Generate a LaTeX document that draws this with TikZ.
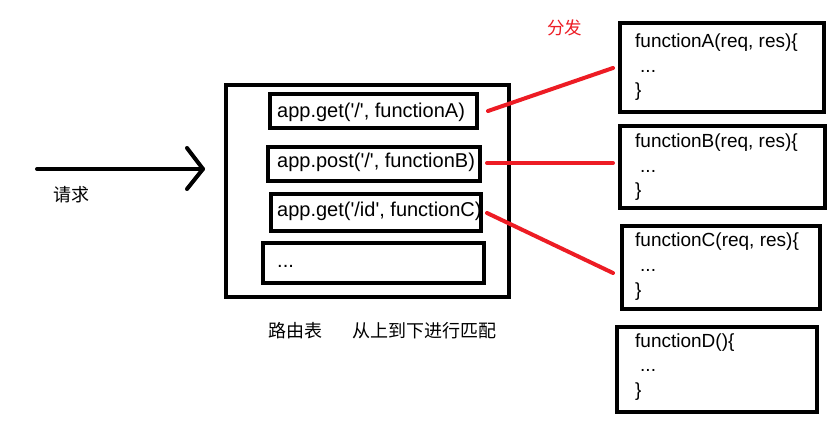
\documentclass[tikz,border=0pt]{standalone}
\usepackage{fontspec}
\setmainfont{Liberation Sans}
\newfontfamily\cjk{Noto Sans CJK SC}
\usetikzlibrary{calc}
\definecolor{paintred}{RGB}{237,28,36}
\newcommand{\sq}{\textquotesingle}
\begin{document}
\begin{tikzpicture}[x=1pt,y=-1pt,
  box/.style={draw=black,line width=4.5pt,rectangle,inner sep=0pt,outer sep=0pt},
  code/.style={anchor=base west,inner sep=0pt,font=\fontsize{19}{19}\selectfont},
  route/.style={code,font=\fontsize{20}{20}\selectfont},
  cn/.style={anchor=base west,inner sep=0pt,font=\cjk\fontsize{18}{18}\selectfont},
  redline/.style={draw=paintred,line width=4pt,line cap=round},
  reqline/.style={draw=black,line width=4pt,line cap=round,line join=round}]
\useasboundingbox[fill=white] (0,0) rectangle (839,433);
% routing table
\node[box,minimum width=283pt,minimum height=212pt] (table) at (367.5,191) {};
\node[box,minimum width=207pt,minimum height=34pt] (A) at (373.5,111) {};
\node[box,minimum width=212pt,minimum height=34pt] (B) at (374,164) {};
\node[box,minimum width=210pt,minimum height=37pt] (C) at (376,212.5) {};
\node[box,minimum width=221pt,minimum height=40pt] (D) at (373.5,263) {};
\node[route] (tA) at (277,118) {app.get(\sq/\sq, functionA)};
\node[route] (tB) at (277,168) {app.post(\sq/\sq, functionB)};
\node[route] (tC) at (277,217) {app.get(\sq/id\sq, functionC)};
\node[route] (tD) at (277,268) {...};
% functions
\node[box,minimum width=204pt,minimum height=89pt] (FA) at (722,67.5) {};
\node[box,minimum width=205pt,minimum height=82pt] (FB) at (722.5,167) {};
\node[box,minimum width=198pt,minimum height=83pt] (FC) at (721,267.5) {};
\node[box,minimum width=200pt,minimum height=85pt] (FD) at (717,369.5) {};
\node[code] (fa1) at (635,48) {functionA(req, res)\{};
\node[code] (fa2) at (640,73) {...};
\node[code] (fa3) at (635,97) {\}};
\node[code] (fb1) at (635,148) {functionB(req, res)\{};
\node[code] (fb2) at (640,172.5) {...};
\node[code] (fb3) at (635,197) {\}};
\node[code] (fc1) at (635,247) {functionC(req, res)\{};
\node[code] (fc2) at (640,271) {...};
\node[code] (fc3) at (635,296) {\}};
\node[code] (fd1) at (635,347) {functionD()\{};
\node[code] (fd2) at (640,371) {...};
\node[code] (fd3) at (635,396) {\}};
% labels
\node[cn] (req) at (53,202) {请求};
\node[cn,text=paintred,font=\cjk\fontsize{17.5}{17.5}\selectfont] (dist) at (547,35) {分发};
\node[cn] (tabname) at (268,337) {路由表};
\node[cn] (order) at (352,337) {从上到下进行匹配};
% request arrow
\coordinate (reqstart) at (37,169);
\coordinate (reqend) at (203,169);
\draw[reqline] (reqstart) -- (reqend);
\draw[reqline] ($(reqend)+(-16,-21)$) -- (reqend) -- ($(reqend)+(-16,20)$);
% dispatch lines
\draw[redline] ($(A.east)+(11,0)$) -- ($(FA.west)+(-7,0.5)$);
\draw[redline] ($(B.east)+(7,-1)$) -- ($(FB.west)+(-7,-4)$);
\draw[redline] ($(C.east)+(6,0.5)$) -- ($(FC.west)+(-9,5.5)$);
\end{tikzpicture}
\end{document}
